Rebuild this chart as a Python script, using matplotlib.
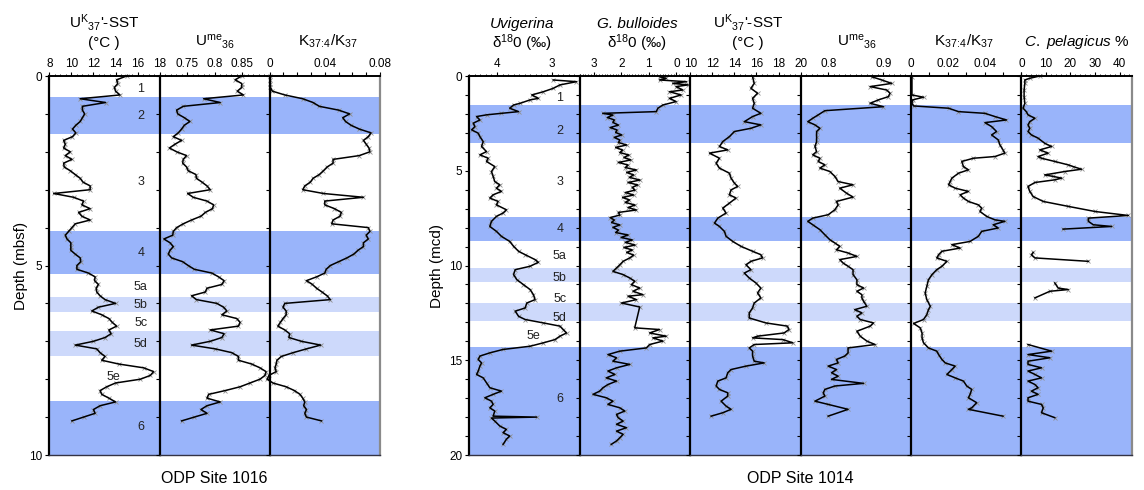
import numpy as np
import matplotlib.pyplot as plt
from matplotlib.ticker import MultipleLocator

plt.rcParams['font.family'] = ['Liberation Sans', 'DejaVu Sans']
plt.rcParams['mathtext.fontset'] = 'custom'
plt.rcParams['mathtext.rm'] = 'Liberation Sans'
plt.rcParams['mathtext.it'] = 'Liberation Sans:italic'
plt.rcParams['xtick.labelsize'] = 8.5
plt.rcParams['ytick.labelsize'] = 8.5

# ---------------- ODP Site 1016 (depth in mbsf) ----------------
depth_1016 = [0.0, 0.1, 0.2, 0.3, 0.4, 0.5, 0.6, 0.7, 0.8, 0.9,
              1.0, 1.1, 1.2, 1.3, 1.4, 1.5, 1.6, 1.7, 1.8, 1.9,
              2.0, 2.1, 2.2, 2.3, 2.4, 2.5, 2.6, 2.7, 2.8, 2.9,
              3.0, 3.1, 3.2, 3.3, 3.4, 3.5, 3.6, 3.7, 3.8, 3.9,
              4.0, 4.1, 4.2, 4.3, 4.4, 4.5, 4.6, 4.7, 4.8, 4.9,
              5.0, 5.1, 5.2, 5.3, 5.4, 5.5, 5.6, 5.7, 5.8, 5.9,
              6.0, 6.1, 6.2, 6.3, 6.4, 6.5, 6.6, 6.7, 6.8, 6.9,
              7.0, 7.1, 7.2, 7.3, 7.4, 7.5, 7.6, 7.7, 7.8, 7.9,
              8.0, 8.1, 8.2, 8.3, 8.4, 8.5, 8.6, 8.7, 8.8, 8.9,
              9.0, 9.1]
sst_1016 = [15.0, 14.1, 14.2, 13.9, 14.0, 14.4, 10.8, 13.1, 11.0, 11.0,
            11.2, 11.0, 10.8, 10.4, 10.1, 10.4, 10.1, 9.3, 9.45, 9.3,
            9.9, 9.45, 10.05, 9.3, 9.35, 9.9, 10.35, 10.8, 11.05, 11.7,
            11.7, 8.4, 10.2, 11.1, 10.95, 11.7, 10.65, 10.95, 11.7, 10.35,
            10.05, 9.75, 9.45, 9.6, 9.95, 9.95, 9.95, 10.35, 10.8, 10.85,
            10.5, 10.5, 11.55, 12.15, 12.1, 12.45, 12.25, 12.3, 12.6, 13.05,
            14.0, 12.45, 11.85, 12.75, 13.4, 13.7, 14.1, 13.4, 13.6, 13.05,
            12.0, 10.35, 12.3, 12.6, 13.05, 12.75, 14.3, 16.55, 17.45, 17.15,
            16.25, 14.0, 13.2, 12.6, 12.75, 13.4, 14.0, 12.6, 12.0, 12.15,
            11.1, 10.05]
ume_1016 = [0.849, 0.837, 0.849, 0.849, 0.841, 0.852, 0.780, 0.810, 0.743, 0.731,
            0.733, 0.745, 0.755, 0.745, 0.740, 0.734, 0.725, 0.740, 0.728, 0.718,
            0.731, 0.749, 0.743, 0.742, 0.749, 0.752, 0.766, 0.767, 0.777, 0.786,
            0.792, 0.751, 0.761, 0.786, 0.798, 0.796, 0.783, 0.775, 0.758, 0.743,
            0.731, 0.725, 0.724, 0.708, 0.719, 0.725, 0.719, 0.716, 0.722, 0.742,
            0.752, 0.763, 0.795, 0.807, 0.817, 0.813, 0.786, 0.783, 0.758, 0.767,
            0.804, 0.816, 0.822, 0.813, 0.840, 0.846, 0.843, 0.792, 0.817, 0.813,
            0.792, 0.758, 0.801, 0.831, 0.843, 0.843, 0.867, 0.882, 0.893, 0.891,
            0.882, 0.864, 0.846, 0.819, 0.789, 0.786, 0.810, 0.786, 0.775, 0.786,
            0.763, 0.740]
k374_1016 = [0.0005, 0.0005, 0.0005, 0.0005, 0.002, 0.011, 0.024, 0.0315, 0.036, 0.050,
             0.058, 0.053, 0.055, 0.059, 0.065, 0.0735, 0.0715, 0.068, 0.070, 0.072,
             0.0727, 0.065, 0.046, 0.046, 0.0417, 0.039, 0.036, 0.0315, 0.0295, 0.0255,
             0.024, 0.039, 0.068, 0.040, 0.040, 0.047, 0.052, 0.051, 0.046, 0.045,
             0.0715, 0.0727, 0.070, 0.0715, 0.068, 0.068, 0.064, 0.061, 0.056, 0.050,
             0.044, 0.041, 0.040, 0.034, 0.0267, 0.031, 0.034, 0.038, 0.0417, 0.044,
             0.011, 0.0097, 0.012, 0.012, 0.0097, 0.0078, 0.006, 0.011, 0.0145, 0.014,
             0.023, 0.037, 0.0267, 0.017, 0.0085, 0.0053, 0.0048, 0.0039, 0.0048, -0.0005,
             -0.0017, 0.0024, 0.012, 0.018, 0.022, 0.024, 0.0255, 0.0247, 0.0267, 0.0255,
             0.0267, 0.0376]

# ---------------- ODP Site 1014 (depth in mcd) ----------------
uvi_depth = [0.21, 0.30, 0.47, 0.65, 0.83, 1.00, 1.18, 1.26, 1.44, 1.53, 1.70, 1.88,
             1.97, 2.05, 2.14, 2.32, 2.49, 2.67, 2.84, 3.02, 3.20, 3.46, 3.72, 3.99,
             4.16, 4.34, 4.51, 4.78, 5.04, 5.30, 5.57, 5.74, 5.92, 6.09, 6.27, 6.44,
             6.62, 6.80, 7.06, 7.23, 7.41, 7.67, 7.94, 8.20, 8.46, 8.73, 8.99, 9.25,
             9.43, 9.69, 9.83, 10.04, 10.22, 10.48, 10.75, 11.01, 11.27, 11.54, 11.80,
             11.98, 12.24, 12.41, 12.68, 12.85, 13.03, 13.20, 13.38, 13.56, 13.73,
             13.91, 14.08, 14.26, 14.43, 14.61, 14.78, 14.96, 15.14, 15.31, 15.57,
             15.75, 15.93, 16.19, 16.45, 16.63, 16.80, 16.98, 17.16, 17.33, 17.51,
             17.68, 17.95, 18.00, 18.05, 18.21, 18.47, 18.65, 18.82, 19.00, 19.17, 19.44]
uvi_d18o = [2.98, 2.56, 2.86, 2.98, 3.16, 3.37, 3.25, 3.40, 3.58, 3.70, 3.77, 3.61,
            3.92, 4.19, 4.37, 4.31, 4.43, 4.40, 4.46, 4.34, 4.31, 4.25, 4.28, 4.19,
            4.31, 4.16, 4.19, 4.04, 4.10, 4.07, 4.04, 3.95, 4.01, 3.92, 4.07, 4.13,
            3.98, 4.01, 3.83, 3.89, 4.01, 4.10, 4.13, 4.01, 3.92, 3.77, 3.70, 3.61,
            3.49, 3.31, 3.25, 3.40, 3.67, 3.70, 3.64, 3.52, 3.40, 3.34, 3.31,
            3.46, 3.49, 3.67, 3.61, 3.49, 3.16, 2.86, 2.80, 2.74, 2.86,
            2.95, 3.16, 3.40, 3.89, 4.13, 4.31, 4.34, 4.28, 4.31, 4.34,
            4.37, 4.25, 4.19, 4.13, 3.92, 4.07, 4.22, 4.10, 4.07, 4.13,
            4.04, 4.07, 3.28, 4.10, 4.04, 3.95, 3.83, 3.89, 3.77, 3.83, 3.89]

bul_depth = [0.04, 0.12, 0.21, 0.30, 0.39, 0.47, 0.56, 0.74, 0.83, 1.00, 1.18, 1.35,
             1.53, 1.70, 1.88,
             1.97, 2.06, 2.19, 2.32, 2.45, 2.59, 2.72, 2.85, 2.98, 3.11, 3.24, 3.38,
             3.51, 3.64, 3.77, 3.91, 4.04, 4.17, 4.30, 4.43, 4.56, 4.70, 4.83, 4.96,
             5.09, 5.22, 5.35, 5.49, 5.62, 5.75, 5.88, 6.02, 6.15, 6.28, 6.41, 6.54,
             6.67, 6.81, 6.94, 7.07, 7.20, 7.34, 7.47, 7.60, 7.73, 7.86, 7.99, 8.13,
             8.26, 8.39, 8.52, 8.65, 8.78, 8.92, 9.05, 9.18, 9.31, 9.45,
             9.60, 9.78, 9.96, 10.13, 10.31, 10.48, 10.66, 10.83, 11.01, 11.19, 11.36,
             11.54, 11.62, 11.80, 11.98, 12.19, 13.29, 13.38, 13.56, 13.73, 13.82,
             13.99, 14.17, 14.35, 14.52, 14.70, 14.87, 15.05, 15.22, 15.40, 15.57,
             15.75, 15.93, 16.10, 16.28, 16.45, 16.63, 16.80, 16.98, 17.16, 17.33,
             17.51, 17.68, 17.86, 18.03, 18.21, 18.38, 18.56, 18.74, 18.91, 19.09,
             19.26, 19.44]
bul_d18o = [0.61, 0.37, 0.61, -0.36, 0.13, -0.42, 0.01, -0.23, 0.25, -0.17, 0.25, 0.01,
            0.49, 0.67, 0.73,
            2.67, 2.30, 2.50, 2.25, 2.30, 2.10, 2.40, 2.15, 2.20, 1.98, 2.25, 2.05,
            2.10, 1.80, 2.20, 1.95, 2.05, 1.72, 1.90, 1.65, 2.10, 1.75, 1.85, 1.45,
            1.80, 1.55, 1.70, 1.32, 1.75, 1.40, 1.60, 1.50, 1.85, 1.55, 1.95, 1.70,
            1.85, 1.50, 1.75, 1.45, 2.10, 2.05, 2.40, 2.25, 2.35, 2.05, 2.30, 2.10,
            2.20, 1.75, 2.00, 1.60, 1.85, 1.50, 1.90, 1.60, 1.80, 1.55,
            1.69, 1.93, 2.05, 2.17, 2.30, 1.93, 1.69, 1.51, 1.63, 1.33, 1.57,
            1.21, 1.75, 1.45, 1.99, 1.33, 1.51, 0.61, 0.97, 0.37, 0.85,
            0.49, 0.97, 1.09, 2.05, 2.48, 2.17, 2.30, 1.69, 2.17, 2.48,
            2.23, 2.54, 2.17, 2.48, 2.66, 2.78, 3.02, 2.54, 2.30, 2.48,
            2.05, 1.87, 2.17, 2.11, 1.93, 2.17, 1.81, 2.17, 1.93, 2.05,
            2.17, 2.36]

sst_depth = [0.04, 0.39, 0.65, 0.91, 1.18, 1.44, 1.70, 1.97, 2.14, 2.41, 2.58, 2.76,
             2.93, 3.20, 3.46, 3.72, 3.90, 4.07, 4.34, 4.60, 4.86, 5.13, 5.39, 5.65,
             5.83, 6.01, 6.27, 6.44, 6.71, 6.97, 7.23, 7.50, 7.76, 7.94, 8.20, 8.46,
             8.73, 8.99, 9.25, 9.43, 9.60, 9.78, 9.96, 10.22, 10.40, 10.66, 10.92,
             11.19, 11.45, 11.71, 11.98, 12.24, 12.50, 12.77, 13.03, 13.20, 13.38,
             13.56, 13.73, 13.82, 13.91, 14.08, 14.17, 14.35, 14.52, 14.78, 15.05,
             15.14, 15.31, 15.49, 15.66, 15.93, 16.10, 16.36, 16.54, 16.72, 16.89,
             17.16, 17.42, 17.59, 17.77, 17.95]
sst_1014 = [15.65, 15.8, 15.5, 16.1, 15.65, 15.8, 15.65, 16.4, 15.65, 14.9, 16.4, 15.5,
            14.0, 13.55, 12.95, 12.65, 13.4, 11.75, 12.65, 12.35, 12.65, 13.55, 13.7, 14.0,
            14.3, 13.7, 13.55, 14.15, 13.55, 12.95, 13.25, 12.5, 12.2, 12.65, 13.1, 13.25,
            13.85, 14.6, 15.65, 16.4, 16.55, 15.5, 15.05, 15.5, 14.9, 15.35, 15.95,
            16.4, 16.1, 16.4, 15.8, 15.65, 15.35, 15.35, 16.85, 18.8, 18.95,
            18.5, 16.1, 15.65, 18.4, 19.3, 15.8, 15.35, 15.65, 15.65, 15.8,
            16.7, 15.05, 13.7, 13.4, 13.25, 12.5, 12.35, 12.65, 13.4, 13.4,
            12.8, 13.25, 13.7, 12.95, 11.9]

ume_depth = [0.04, 0.21, 0.39, 0.56, 0.74, 0.91, 1.09, 1.26, 1.44, 1.62, 1.83, 2.05,
             2.23, 2.41, 2.58, 2.76, 2.93, 3.20, 3.46, 3.72, 3.99, 4.16, 4.34, 4.51,
             4.69, 4.86, 5.04, 5.30, 5.57, 5.74, 5.92, 6.18, 6.39, 6.62, 6.80, 7.06,
             7.32, 7.50, 7.67, 7.85, 8.11, 8.38, 8.64, 8.81, 8.99, 9.17, 9.34, 9.52,
             9.69, 9.87, 10.04, 10.22, 10.48, 10.75, 11.01, 11.19, 11.36, 11.54,
             11.71, 11.89, 12.15, 12.33, 12.50, 12.68, 12.85, 13.03, 13.20, 13.47,
             13.73, 13.99, 14.17, 14.35, 14.61, 14.78, 14.96, 15.14, 15.31, 15.49,
             15.66, 15.84, 16.01, 16.22, 16.36, 16.54, 16.72, 16.89, 17.16, 17.33,
             17.59, 17.95]
ume_1014 = [0.879, 0.897, 0.915, 0.876, 0.906, 0.912, 0.909, 0.891, 0.876, 0.900, 0.794, 0.782,
            0.772, 0.763, 0.776, 0.785, 0.779, 0.779, 0.779, 0.776, 0.779, 0.772, 0.785, 0.782,
            0.794, 0.785, 0.803, 0.812, 0.818, 0.845, 0.821, 0.833, 0.845, 0.815, 0.818, 0.812,
            0.800, 0.772, 0.763, 0.772, 0.785, 0.794, 0.803, 0.812, 0.821, 0.815, 0.836, 0.852,
            0.821, 0.827, 0.836, 0.845, 0.845, 0.852, 0.852, 0.864, 0.852, 0.861,
            0.861, 0.864, 0.870, 0.848, 0.861, 0.852, 0.858, 0.882, 0.876, 0.852,
            0.858, 0.870, 0.885, 0.836, 0.836, 0.830, 0.815, 0.818, 0.800, 0.815,
            0.806, 0.818, 0.806, 0.864, 0.812, 0.794, 0.791, 0.794, 0.776, 0.800,
            0.836, 0.800]

k374_depth = [0.04, 1.00, 1.12, 1.26, 1.44, 1.58, 1.70, 1.88, 1.97, 2.14, 2.32, 2.46,
              2.67, 2.93, 3.11, 3.37, 3.63, 3.90, 4.07, 4.25, 4.34, 4.51, 4.78, 4.95,
              5.13, 5.39, 5.57, 5.74, 5.92, 6.09, 6.27, 6.44, 6.62, 6.80, 6.97, 7.15,
              7.41, 7.59, 7.67, 7.85, 8.02, 8.20, 8.46, 8.73, 8.90, 9.08, 9.25, 9.43,
              9.60, 9.78, 10.04, 10.22, 10.48, 10.75, 11.10, 11.45, 11.80, 12.15,
              12.33, 12.59, 12.85, 13.06, 13.29, 13.56, 13.82, 14.08, 14.35, 14.52,
              14.70, 14.96, 15.14, 15.31, 15.49, 15.75, 15.93, 16.10, 16.36, 16.54,
              16.80, 16.98, 17.24, 17.51, 17.59, 17.95]
k374_1014 = [0.0005, 0.0005, 0.0068, 0.0009, 0.0005, 0.0014, 0.0204, 0.0258, 0.0402, 0.0456, 0.0519, 0.0402,
             0.0438, 0.0465, 0.0438, 0.0474, 0.0483, 0.050, 0.051, 0.0456, 0.0339, 0.0276, 0.0285, 0.0312,
             0.0258, 0.0222, 0.0213, 0.0204, 0.024, 0.0312, 0.0267, 0.0285, 0.0312, 0.0366, 0.0384, 0.0375,
             0.0411, 0.0456, 0.051, 0.0447, 0.0474, 0.0384, 0.0366, 0.0321, 0.0222, 0.0267, 0.0168, 0.015,
             0.014, 0.0195, 0.0168, 0.014, 0.0114, 0.0095, 0.0086, 0.0077, 0.0086, 0.0105,
             0.0095, 0.0086, 0.0068, 0.0014, 0.005, 0.006, 0.006, 0.0068, 0.0095, 0.014,
             0.015, 0.0168, 0.0186, 0.024, 0.0222, 0.0195, 0.024, 0.0285, 0.0303, 0.033,
             0.0321, 0.0312, 0.0357, 0.033, 0.0312, 0.050]

cpel_depth = [0.00, 0.12, 0.21, 0.39, 0.74, 1.09, 1.44, 1.70, 1.88, 2.05, 2.23, 2.41,
              2.58, 2.76, 2.93, 3.11, 3.28, 3.55, 3.72, 3.90, 4.07, 4.25, 4.34, 4.51,
              4.69, 4.78, 4.92, 5.04, 5.22, 5.30, 5.39, 5.48, 5.62, 5.83, 6.09, 6.36,
              6.62, 6.88, 7.15, 7.36, 7.50, 7.67, 7.85, 7.94, 8.08, 8.7,
              9.31, 9.43, 9.60, 9.78, 10.3,
              10.92, 11.19, 11.27, 11.36, 11.71, 13.0,
              14.17, 14.52, 14.70, 14.87, 15.05, 15.22, 15.40, 15.57, 15.75, 15.93,
              16.10, 16.28, 16.45, 16.63, 16.80, 16.98, 17.16, 17.33, 17.51, 17.77, 18.03]
cpel_pct = [7.5, 3.4, 1.4, 1.4, 1.1, 1.1, 1.4, 0.7, 2.0, 2.7, 5.5, 3.4,
            2.7, 3.4, 2.7, 4.1, 6.8, 9.5, 12.3, 7.5, 10.9, 6.8, 8.2, 13.6,
            19.1, 21.1, 24.5, 17.7, 9.5, 13.0, 16.4, 13.6, 5.5, 2.7, 3.4, 4.8,
            8.9, 19.1, 30.0, 43.6, 27.3, 27.3, 29.3, 36.8, 17.0, np.nan,
            4.8, 4.1, 5.5, 27.3, np.nan,
            13.6, 15.0, 19.1, 11.6, 5.5, np.nan,
            2.7, 12.3, 2.7, 11.6, 2.7, 2.7, 8.2, 2.7, 5.5, 8.2,
            2.7, 5.5, 6.8, 4.1, 6.8, 2.7, 2.7, 8.2, 8.9, 8.2, 13.6]

# isotope stage bands (top, bottom depth)
glacial_1016 = [(0.56, 1.54), (4.10, 5.23), (8.58, 10.0)]
stadial_1016 = [(5.84, 6.24), (6.72, 7.38)]
glacial_1014 = [(1.53, 3.51), (7.43, 8.73), (14.31, 20.0)]
stadial_1014 = [(10.11, 10.89), (11.99, 12.94)]

stage_names = ['1', '2', '3', '4', '5a', '5b', '5c', '5d', '5e', '6']
stage_depth_1016 = [0.33, 1.06, 2.79, 4.68, 5.58, 6.04, 6.53, 7.07, 7.93, 9.25]
stage_x_1016 = [16.3, 16.3, 16.3, 16.3, 16.3, 16.3, 16.3, 16.3, 13.8, 16.3]
stage_depth_1014 = [1.18, 2.90, 5.57, 8.08, 9.48, 10.66, 11.75, 12.77, 13.73, 17.07]
stage_x_1014 = [2.86, 2.86, 2.86, 2.86, 2.86, 2.86, 2.86, 2.86, 3.34, 2.86]

DARK = '#99b4fa'
LIGHT = '#cdd9fb'
W, H = 1144, 490
TOP, BOT = 76, 455

fig = plt.figure(figsize=(W/100, H/100), dpi=100)


def panel(x0, xlim, ymax, ticks, labels, minor, glac, stad, last=False):
    ax = fig.add_axes([x0/W, 1-BOT/H, 110.4/W, (BOT-TOP)/H])
    ax.set_xlim(*xlim)
    ax.set_ylim(ymax, 0)
    for a, b in glac:
        ax.axhspan(a, b, color=DARK, lw=0, zorder=0)
    for a, b in stad:
        ax.axhspan(a, b, color=LIGHT, lw=0, zorder=0)
    ax.xaxis.tick_top()
    ax.set_xticks(ticks)
    ax.set_xticklabels(labels)
    if minor:
        ax.xaxis.set_minor_locator(MultipleLocator(minor))
    ax.tick_params(axis='x', which='major', direction='out', length=3,
                   width=0.8, pad=1.5)
    ax.tick_params(axis='x', which='minor', direction='out', length=1.8,
                   width=0.6)
    ax.set_yticks(np.arange(0, ymax+0.5, 1))
    ax.tick_params(axis='y', direction='out', length=3, width=0.8, pad=2)
    ax.set_yticklabels([])
    ax.spines['left'].set_linewidth(1.6)
    ax.spines['top'].set_linewidth(1.4)
    ax.spines['bottom'].set_linewidth(1.0)
    ax.spines['bottom'].set_color('#333344')
    if last:
        ax.spines['right'].set_linewidth(1.6)
        ax.spines['right'].set_color('#8a8a8a')
    else:
        ax.spines['right'].set_visible(False)
    return ax


def trace(ax, vals, depths):
    ax.plot(vals, depths, ls='none', marker='x', ms=3, mew=0.6,
            color='#8f8f8f', zorder=2, clip_on=False)
    ax.plot(vals, depths, color='k', lw=1.1, zorder=3, clip_on=False)


def title(xc, line1, line2=None, size=11):
    if line2 is None:
        fig.text(xc/W, 1-46/H, line1, ha='center', va='baseline', fontsize=size)
    else:
        fig.text(xc/W, 1-28/H, line1, ha='center', va='baseline', fontsize=size)
        fig.text(xc/W, 1-47/H, line2, ha='center', va='baseline', fontsize=size)


sst_title = r"U$^{\mathrm{K}}{}_{\mathrm{37}}$'-SST"
ume_title = r"U$^{\mathrm{me}}{}_{\mathrm{36}}$"
k_title = r"K$_{\mathrm{37}\!:\!\mathrm{4}}$/K$_{\mathrm{37}}$"
d18o = r"δ$^{\mathrm{18}}$0 (‰)"

# ---- left block: Site 1016 ----
lx = [49.3, 159.5, 269.6]
a1 = panel(lx[0], (8, 18), 10, [8, 10, 12, 14, 16, 18],
           ['8', '10', '12', '14', '16', '18'], 0.5, glacial_1016, stadial_1016)
a2 = panel(lx[1], (0.7, 0.9), 10, [0.75, 0.8, 0.85],
           ['0.75', '0.8', '0.85'], 0.01, glacial_1016, stadial_1016)
k_ticks = [0, 0.01, 0.02, 0.03, 0.04, 0.05, 0.06, 0.07, 0.08]
a3 = panel(lx[2], (0, 0.08), 10, k_ticks,
           ['0', '', '', '', '0.04', '', '', '', '0.08'], None,
           glacial_1016, stadial_1016, last=True)
trace(a1, sst_1016, depth_1016)
trace(a2, ume_1016, depth_1016)
trace(a3, k374_1016, depth_1016)
a1.set_yticklabels(['0', '', '', '', '', '5', '', '', '', '', '10'])
a1.set_ylabel('Depth (mbsf)', fontsize=11, labelpad=1)
for s, d, x in zip(stage_names, stage_depth_1016, stage_x_1016):
    a1.text(x, d, s, ha='center', va='center', fontsize=9, color='#222222', zorder=4)
title(104, sst_title, '(°C )')
title(215, ume_title)
title(328, k_title)
fig.text(214/W, 1-478/H, 'ODP Site 1016', ha='center', va='center', fontsize=11.5)

# ---- right block: Site 1014 ----
rx = [469.4 + i*110.4 for i in range(6)]
b1 = panel(rx[0], (4.5, 2.5), 20, [4, 3], ['4', '3'], 0.1,
           glacial_1014, stadial_1014)
b2 = panel(rx[1], (3.5, -0.5), 20, [3, 2, 1, 0], ['3', '2', '1', '0'], 0.1,
           glacial_1014, stadial_1014)
b3 = panel(rx[2], (10, 20), 20, [10, 12, 14, 16, 18, 20],
           ['10', '12', '14', '16', '18', '20'], 0.5, glacial_1014, stadial_1014)
b4 = panel(rx[3], (0.75, 0.95), 20, [0.8, 0.9], ['0.8', '0.9'], 0.01,
           glacial_1014, stadial_1014)
k2_ticks = [0, 0.01, 0.02, 0.03, 0.04, 0.05, 0.06]
b5 = panel(rx[4], (0, 0.06), 20, k2_ticks, ['0', '', '0.02', '', '0.04', '', ''],
           None, glacial_1014, stadial_1014)
b6 = panel(rx[5], (0, 45), 20, [0, 10, 20, 30, 40], ['0', '10', '20', '30', '40'], 2,
           glacial_1014, stadial_1014, last=True)
trace(b1, uvi_d18o, uvi_depth)
trace(b2, bul_d18o, bul_depth)
trace(b3, sst_1014, sst_depth)
trace(b4, ume_1014, ume_depth)
trace(b5, k374_1014, k374_depth)
trace(b6, cpel_pct, cpel_depth)
b1.set_yticklabels(['0', '', '', '', '', '5', '', '', '', '', '10',
                    '', '', '', '', '15', '', '', '', '', '20'])
b1.set_ylabel('Depth (mcd)', fontsize=11, labelpad=4)
for s, d, x in zip(stage_names, stage_depth_1014, stage_x_1014):
    b1.text(x, d, s, ha='center', va='center', fontsize=9, color='#222222', zorder=4)
fig.text(522/W, 1-28/H, 'Uvigerina', ha='center', va='baseline', fontsize=11,
         style='italic')
fig.text(522/W, 1-48/H, d18o, ha='center', va='baseline', fontsize=11)
fig.text(637/W, 1-28/H, 'G. bulloides', ha='center', va='baseline', fontsize=11,
         style='italic')
fig.text(637/W, 1-48/H, d18o, ha='center', va='baseline', fontsize=11)
title(748, sst_title, '(°C )')
title(857, ume_title)
title(964, k_title)
fig.text(1077/W, 1-46/H, r"$\mathit{C.\ pelagicus}$ %", ha='center',
         va='baseline', fontsize=11)
fig.text(800/W, 1-478/H, 'ODP Site 1014', ha='center', va='center', fontsize=11.5)

fig.savefig('out.png', dpi=100)
